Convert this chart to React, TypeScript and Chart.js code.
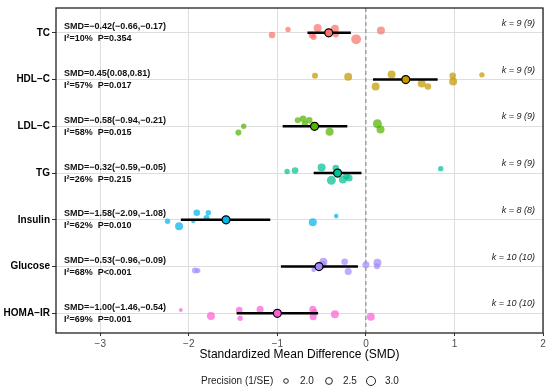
import { useEffect, useRef } from 'react';
import { Chart, registerables } from 'chart.js';

Chart.register(...registerables);

// ---------------- data ----------------
const categories = ['TC', 'HDL−C', 'LDL−C', 'TG', 'Insulin', 'Glucose', 'HOMA−IR'];
const rowColors = ['#F8766D', '#C49A00', '#53B400', '#00C094', '#00B6EB', '#A58AFF', '#FB61D7'];

const pooledSmd = [-0.42, 0.45, -0.58, -0.32, -1.58, -0.53, -1.0];
const ciLow = [-0.66, 0.08, -0.94, -0.59, -2.09, -0.96, -1.46];
const ciHigh = [-0.17, 0.81, -0.21, -0.05, -1.08, -0.09, -0.54];

const smdLabels = [
  'SMD=−0.42(−0.66,−0.17)',
  'SMD=0.45(0.08,0.81)',
  'SMD=−0.58(−0.94,−0.21)',
  'SMD=−0.32(−0.59,−0.05)',
  'SMD=−1.58(−2.09,−1.08)',
  'SMD=−0.53(−0.96,−0.09)',
  'SMD=−1.00(−1.46,−0.54)',
];
const hetLabels = [
  'I²=10%  P=0.354',
  'I²=57%  P=0.017',
  'I²=58%  P=0.015',
  'I²=26%  P=0.215',
  'I²=62%  P=0.010',
  'I²=68%  P<0.001',
  'I²=69%  P=0.001',
];
const kLabels = ['k = 9 (9)', 'k = 9 (9)', 'k = 9 (9)', 'k = 9 (9)', 'k = 8 (8)', 'k = 10 (10)', 'k = 10 (10)'];

// individual studies: SMD, vertical jitter (row units), precision (1/SE)
const studySmd = [
  [-1.06, -0.88, -0.545, -0.61, -0.59, -0.35, -0.34, -0.11, 0.17],
  [-0.575, -0.2, 0.29, 0.11, 0.63, 0.7, 0.98, 0.985, 1.31],
  [-1.38, -1.44, -0.77, -0.71, -0.64, -0.69, -0.41, 0.13, 0.165],
  [-0.89, -0.8, -0.5, -0.34, -0.39, -0.26, -0.19, -0.22, 0.845],
  [-2.24, -2.11, -1.91, -1.78, -1.8, -1.95, -0.6, -0.335],
  [-1.93, -1.9, -0.48, -0.49, -0.59, -0.24, -0.2, 0.0, 0.13, 0.125],
  [-2.09, -1.75, -1.43, -1.42, -1.195, -0.6, -0.595, -0.58, -0.35, 0.055],
];
const studyJitter = [
  [0.05, -0.07, -0.1, 0.05, 0.09, -0.085, 0.035, 0.14, -0.05],
  [-0.08, -0.06, -0.11, 0.15, 0.085, 0.15, -0.08, 0.04, -0.1],
  [0.0, 0.135, -0.13, -0.16, -0.13, -0.055, 0.115, -0.055, 0.07],
  [-0.035, -0.055, -0.12, -0.105, 0.155, 0.14, 0.105, 0.07, -0.095],
  [0.03, 0.135, -0.15, -0.15, -0.04, 0.03, 0.05, -0.08],
  [0.085, 0.085, -0.105, -0.04, 0.07, -0.105, 0.105, -0.04, -0.08, -0.005],
  [-0.07, 0.055, -0.07, 0.105, -0.09, -0.09, 0.07, -0.03, 0.02, 0.07],
];
const studyPrecision = [
  [2.45, 2.18, 2.77, 2.45, 2.32, 2.77, 2.32, 3.2, 2.77],
  [2.32, 2.77, 2.77, 2.77, 2.77, 2.45, 2.45, 2.77, 2.18],
  [2.18, 2.32, 2.32, 2.45, 2.45, 2.32, 2.77, 3.0, 2.77],
  [2.18, 2.45, 2.77, 2.45, 3.0, 2.77, 2.55, 2.45, 2.18],
  [2.18, 2.77, 2.45, 2.18, 2.32, 1.86, 2.77, 2.0],
  [2.32, 2.18, 2.77, 2.77, 2.0, 2.45, 2.55, 2.55, 2.77, 2.32],
  [1.86, 2.77, 2.45, 2.18, 2.55, 2.55, 2.55, 2.32, 2.77, 2.77],
];
const legendPrecision = [2.0, 2.5, 3.0];
const xTicks = [-3, -2, -1, 0, 1, 2];

const X_MIN = -3.5;
const X_MAX = 2;
const Y_MIN = 0.47;
const Y_MAX = 7.42;
const FONT = '"Liberation Sans", Arial, sans-serif';

const radiusOf = (p: number) => 2.3 + (p - 2) * 2.2;
const withAlpha = (hex: string, a: number) => {
  const n = parseInt(hex.slice(1), 16);
  return `rgba(${(n >> 16) & 255},${(n >> 8) & 255},${n & 255},${a})`;
};
const fmtTick = (v: number) => (v < 0 ? '−' + Math.abs(v) : String(v));

export default function App() {
  const ref = useRef<HTMLCanvasElement>(null);

  useEffect(() => {
    document.body.style.margin = '0';
    if (!ref.current) return;

    const datasets: any[] = [];
    datasets.push({
      data: pooledSmd.map((v, i) => ({ x: v, y: i + 1 })),
      pointRadius: 4,
      pointBackgroundColor: rowColors,
      pointBorderColor: '#000',
      pointBorderWidth: 1.2,
      order: 0,
    });
    categories.forEach((_, i) => {
      datasets.push({
        data: [
          { x: ciLow[i], y: i + 1 },
          { x: ciHigh[i], y: i + 1 },
        ],
        showLine: true,
        borderColor: '#000',
        borderWidth: 2.5,
        borderCapStyle: 'butt',
        pointRadius: 0,
        order: 1,
      });
    });
    categories.forEach((_, i) => {
      datasets.push({
        data: studySmd[i].map((v, j) => ({ x: v, y: i + 1 + studyJitter[i][j] })),
        pointRadius: studyPrecision[i].map(radiusOf),
        pointBackgroundColor: withAlpha(rowColors[i], 0.72),
        pointBorderWidth: 0,
        order: 2,
      });
    });
    datasets.push({
      data: [
        { x: 0, y: Y_MIN },
        { x: 0, y: Y_MAX },
      ],
      showLine: true,
      borderColor: '#7a7a7a',
      borderWidth: 1,
      borderDash: [4, 3],
      pointRadius: 0,
      order: 3,
    });

    const annotate = {
      id: 'annotate',
      afterDatasetsDraw(chart: any) {
        const { ctx, scales } = chart;
        const y = scales.y;
        ctx.save();
        ctx.fillStyle = '#111';
        ctx.textBaseline = 'middle';
        categories.forEach((_, i) => {
          const py = y.getPixelForValue(i + 1);
          ctx.font = `bold 9px ${FONT}`;
          ctx.textAlign = 'left';
          ctx.fillText(smdLabels[i], 64, py - 6);
          ctx.fillText(hetLabels[i], 64, py + 6);
          ctx.font = `italic 9px ${FONT}`;
          ctx.fillStyle = '#222';
          ctx.textAlign = 'right';
          ctx.fillText(kLabels[i], 535, py - 9.5);
          ctx.fillStyle = '#111';
        });
        ctx.restore();
      },
      afterDraw(chart: any) {
        const { ctx, chartArea } = chart;
        ctx.save();
        ctx.strokeStyle = '#222';
        ctx.lineWidth = 1.3;
        ctx.strokeRect(chartArea.left, chartArea.top, chartArea.right - chartArea.left, chartArea.bottom - chartArea.top);
        // axis title
        ctx.fillStyle = '#000';
        ctx.font = `12px ${FONT}`;
        ctx.textAlign = 'center';
        ctx.textBaseline = 'middle';
        ctx.fillText('Standardized Mean Difference (SMD)', (chartArea.left + chartArea.right) / 2, 355);
        // size legend
        ctx.font = `10px ${FONT}`;
        ctx.textAlign = 'left';
        ctx.fillStyle = '#222';
        const ly = 381;
        ctx.fillText('Precision (1/SE)', 201, ly);
        const cx = [286, 329, 371];
        legendPrecision.forEach((p, i) => {
          ctx.beginPath();
          ctx.arc(cx[i], ly, radiusOf(p), 0, Math.PI * 2);
          ctx.strokeStyle = '#222';
          ctx.lineWidth = 1;
          ctx.stroke();
          ctx.fillText(p.toFixed(1), cx[i] + 14, ly);
        });
        ctx.restore();
      },
    };

    const chart = new Chart(ref.current, {
      type: 'scatter',
      data: { datasets },
      plugins: [annotate],
      options: {
        animation: false,
        responsive: false,
        events: [],
        layout: { padding: { top: 5, right: 7, left: 0, bottom: 0 } },
        plugins: { legend: { display: false }, tooltip: { enabled: false } },
        scales: {
          x: {
            type: 'linear',
            min: X_MIN,
            max: X_MAX,
            afterBuildTicks: (s: any) => {
              s.ticks = xTicks.map((v) => ({ value: v }));
            },
            afterFit: (s: any) => {
              s.height = 59;
            },
            border: { display: false },
            grid: { color: '#DEDEDE', lineWidth: 1, tickColor: '#333', tickLength: 3 },
            ticks: {
              callback: (v: any) => fmtTick(Number(v)),
              color: '#4D4D4D',
              font: { family: FONT, size: 10 },
              padding: 2,
              maxRotation: 0,
            },
          },
          y: {
            type: 'linear',
            reverse: true,
            min: Y_MIN,
            max: Y_MAX,
            afterBuildTicks: (s: any) => {
              s.ticks = categories.map((_, i) => ({ value: i + 1 }));
            },
            afterFit: (s: any) => {
              s.width = 56;
            },
            border: { display: false },
            grid: { color: '#DEDEDE', lineWidth: 1, tickColor: '#333', tickLength: 4 },
            ticks: {
              callback: (v: any) => categories[Math.round(Number(v)) - 1] ?? '',
              color: '#000',
              font: { family: FONT, size: 10, weight: 'bold' },
              padding: 2,
            },
          },
        },
      } as any,
    });
    return () => chart.destroy();
  }, []);

  return (
    <div style={{ position: 'relative', width: 550, height: 392 }}>
      <canvas ref={ref} width={550} height={392} style={{ display: 'block' }} />
    </div>
  );
}
